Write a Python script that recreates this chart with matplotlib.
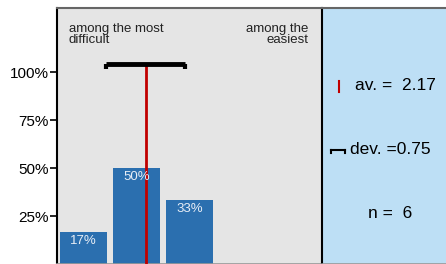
import matplotlib.pyplot as plt
import numpy as np

plt.rcParams["font.family"] = ["Liberation Sans", "DejaVu Sans"]

# Answer distribution on a 5-point scale (1 = among the most difficult)
categories = [1, 2, 3, 4, 5]
shares = [0.167, 0.50, 0.333, 0.0, 0.0]
bar_labels = ["17%", "50%", "33%", "", ""]
mean_val = 2.17
dev_val = 0.75
n_val = 6
yticks = [0.25, 0.50, 0.75, 1.00]
ytick_labels = ["25%", "50%", "75%", "100%"]

W, H = 446, 264
fig = plt.figure(figsize=(W / 100, H / 100), dpi=100)
fig.patch.set_facecolor("white")

ax = fig.add_axes([57 / W, 0, 265 / W, 256 / H])
ax.set_facecolor("#e5e5e5")
ax.bar(categories, shares, width=0.9, color="#2b6faf", zorder=2)
for c, s, lab in zip(categories, shares, bar_labels):
    if lab:
        ax.text(c, s - 0.048, lab, ha="center", va="center", color="#e8eef6",
                fontsize=9.5, zorder=4)

# mean line and deviation bar
whisk_y = 1.04
ax.plot([mean_val, mean_val], [0, whisk_y], color="#c00000", lw=2, zorder=3)
ax.plot([mean_val - dev_val, mean_val + dev_val], [whisk_y, whisk_y],
        color="black", lw=3.5, solid_capstyle="butt", zorder=5)
for xe in (mean_val - dev_val, mean_val + dev_val):
    ax.plot([xe, xe], [whisk_y, whisk_y - 0.022], color="black", lw=3,
            solid_capstyle="butt", zorder=5)

ax.set_xlim(0.5, 5.5)
ax.set_ylim(0, 256 / 192)
ax.set_xticks([])
ax.set_yticks(yticks)
ax.set_yticklabels(ytick_labels, fontsize=11)
ax.tick_params(axis="y", direction="out", length=5, width=1.2, pad=1)
ax.spines["right"].set_visible(False)
ax.spines["bottom"].set_color("#999999")
ax.spines["bottom"].set_linewidth(1.2)
ax.spines["left"].set_linewidth(1.5)
ax.spines["top"].set_color("#666666")
ax.spines["top"].set_linewidth(1.5)

ax.text(0.045, 0.94, "among the most\ndifficult", transform=ax.transAxes,
        ha="left", va="top", fontsize=9.5, linespacing=0.88, color="#222222")
ax.text(0.95, 0.94, "among the\neasiest", transform=ax.transAxes,
        ha="right", va="top", fontsize=9.5, linespacing=0.88, color="#222222")

# summary panel
ax2 = fig.add_axes([322 / W, 0, 124 / W, 256 / H])
ax2.set_facecolor("#bddff5")
ax2.set_xlim(0, 124)
ax2.set_ylim(256, 0)
ax2.set_xticks([])
ax2.set_yticks([])
ax2.spines["right"].set_visible(False)
ax2.spines["bottom"].set_color("#999999")
ax2.spines["bottom"].set_linewidth(1.2)
ax2.spines["left"].set_linewidth(1.5)
ax2.spines["top"].set_color("#666666")
ax2.spines["top"].set_linewidth(1.5)

ax2.plot([16.5, 16.5], [73, 84], color="#c00000", lw=1.5)
ax2.text(33, 78, f"av. =  {mean_val:.2f}", ha="left", va="center", fontsize=12.5)
ax2.plot([9, 23], [142, 142], color="black", lw=1.5)
ax2.plot([9, 9], [142, 144.5], color="black", lw=1.5)
ax2.plot([23, 23], [142, 144.5], color="black", lw=1.5)
ax2.text(28, 141, f"dev. ={dev_val:.2f}", ha="left", va="center", fontsize=12.5)
ax2.text(68, 206, f"n =  {n_val}", ha="center", va="center", fontsize=12.5)

fig.savefig("out.png", dpi=100)
